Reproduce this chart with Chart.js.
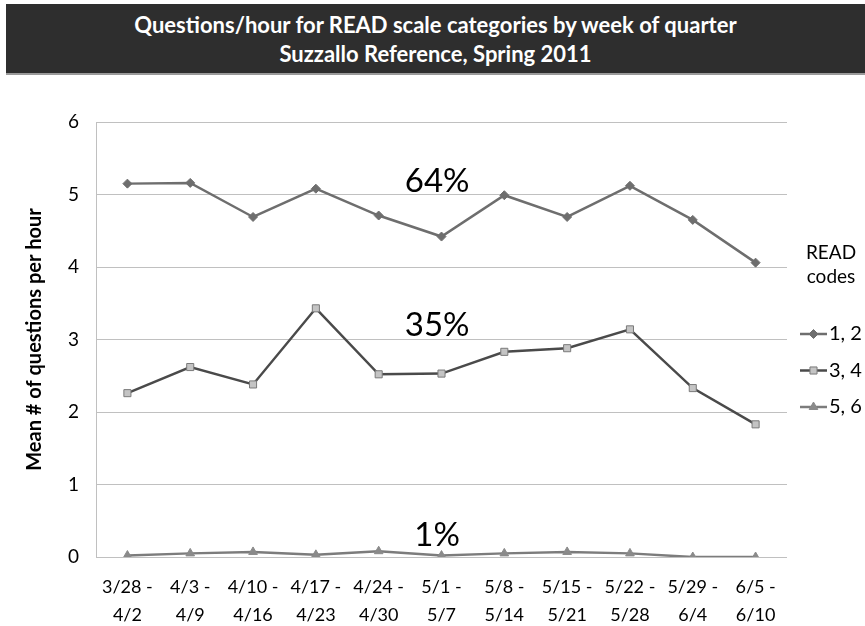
<!DOCTYPE html>
<html>
<head>
<meta charset="utf-8">
<script src="https://cdn.jsdelivr.net/npm/chart.js@4.4.0/dist/chart.umd.min.js"></script>
<style>
  body { margin: 0; background: #fff; width: 865px; height: 626px; overflow: hidden; font-family: Lato, sans-serif; }
  #titleBar {
    position: absolute; left: 6px; top: 4px; width: 859px; height: 71px;
    background: #2e2e2e; border-bottom: 2px solid #9a9a9a;
    color: #fff; font-weight: bold; font-size: 22px; text-align: center;
    line-height: 29px; padding-top: 6px; box-sizing: border-box;
  }
  #wrap { position: absolute; left: 0; top: 76px; width: 865px; height: 550px; }
</style>
</head>
<body>
<div id="titleBar">Questions/hour for READ scale categories by week of quarter<br>Suzzallo Reference, Spring 2011</div>
<div id="wrap"><canvas id="chart"></canvas></div>
<script>
/* =========================
   DATA
========================= */
const weeks = [
  ["3/28 -", "4/2"], ["4/3 -", "4/9"], ["4/10 -", "4/16"], ["4/17 -", "4/23"],
  ["4/24 -", "4/30"], ["5/1 -", "5/7"], ["5/8 -", "5/14"], ["5/15 -", "5/21"],
  ["5/22 -", "5/28"], ["5/29 -", "6/4"], ["6/5 -", "6/10"]
];
const seriesNames = ["1, 2", "3, 4", "5, 6"];
const codes12 = [5.15, 5.16, 4.69, 5.08, 4.71, 4.42, 4.99, 4.69, 5.12, 4.65, 4.06];
const codes34 = [2.26, 2.62, 2.38, 3.43, 2.52, 2.53, 2.83, 2.88, 3.14, 2.33, 1.83];
const codes56 = [0.02, 0.05, 0.07, 0.03, 0.08, 0.02, 0.05, 0.07, 0.05, 0.00, 0.00];

// share labels, placed at (category index, value)
const shareLabels = ["64%", "35%", "1%"];
const shareX = [4.93, 4.93, 4.93];
const shareY = [5.18, 3.2, 0.3];

/* =========================
   PLUGINS
========================= */
const shareText = {
  id: "shareText",
  afterDatasetsDraw(chart) {
    const { ctx, scales: { x, y } } = chart;
    ctx.save();
    ctx.font = "33px Lato, sans-serif";
    ctx.fillStyle = "#000";
    ctx.textAlign = "center";
    ctx.textBaseline = "middle";
    shareLabels.forEach((t, i) => {
      ctx.fillText(t, x.getPixelForValue(shareX[i]), y.getPixelForValue(shareY[i]));
    });
    ctx.restore();
  }
};

const sideLegend = {
  id: "sideLegend",
  afterDraw(chart) {
    const ctx = chart.ctx;
    const x0 = chart.chartArea.right + 13;
    ctx.save();
    ctx.fillStyle = "#000";
    ctx.font = "19px Lato, sans-serif";
    ctx.textAlign = "center";
    ctx.textBaseline = "middle";
    ctx.fillText("READ", x0 + 31, 177);
    ctx.fillText("codes", x0 + 31, 201);

    chart.data.datasets.forEach((ds, i) => {
      const yy = 258 + i * 36.5;
      ctx.strokeStyle = ds.borderColor;
      ctx.lineWidth = ds.borderWidth;
      ctx.beginPath();
      ctx.moveTo(x0, yy);
      ctx.lineTo(x0 + 27, yy);
      ctx.stroke();
      ctx.fillStyle = ds.pointBackgroundColor;
      ctx.strokeStyle = ds.pointBorderColor;
      ctx.lineWidth = ds.pointBorderWidth;
      Chart.helpers.drawPoint(ctx, {
        pointStyle: ds.pointStyle, radius: ds.pointRadius, rotation: 0,
        borderWidth: ds.pointBorderWidth
      }, x0 + 13.5, yy);
      ctx.fillStyle = "#000";
      ctx.font = "20px Lato, sans-serif";
      ctx.textAlign = "left";
      ctx.fillText(ds.label, x0 + 29, yy);
    });
    ctx.restore();
  }
};

/* =========================
   CHART
========================= */
new Chart(document.getElementById("chart"), {
  type: "line",
  data: {
    labels: weeks,
    datasets: [
      {
        label: seriesNames[0], data: codes12,
        borderColor: "#6e6e6e", borderWidth: 2.5,
        pointStyle: "rectRot", pointRadius: 4.5,
        pointBackgroundColor: "#6e6e6e", pointBorderColor: "#6e6e6e", pointBorderWidth: 1
      },
      {
        label: seriesNames[1], data: codes34,
        borderColor: "#4a4a4a", borderWidth: 2.5,
        pointStyle: "rect", pointRadius: 5,
        pointBackgroundColor: "#c4c4c4", pointBorderColor: "#7a7a7a", pointBorderWidth: 1
      },
      {
        label: seriesNames[2], data: codes56,
        borderColor: "#7c7c7c", borderWidth: 2.5,
        pointStyle: "triangle", pointRadius: 5,
        pointBackgroundColor: "#8a8a8a", pointBorderColor: "#8a8a8a", pointBorderWidth: 1
      }
    ]
  },
  options: {
    responsive: true,
    maintainAspectRatio: false,
    animation: false,
    layout: { padding: { top: 46, right: 78, bottom: 0, left: 0 } },
    plugins: {
      legend: { display: false },
      tooltip: { enabled: false }
    },
    scales: {
      x: {
        offset: true,
        grid: { display: false },
        border: { display: false },
        ticks: {
          color: "#000", padding: 8, maxRotation: 0, autoSkip: false,
          font: { family: "Lato, sans-serif", size: 18, lineHeight: 1.55 }
        },
        afterFit(scale) { scale.height = 69; }
      },
      y: {
        min: 0, max: 6,
        ticks: {
          stepSize: 1, color: "#000", padding: 17,
          font: { family: "Lato, sans-serif", size: 19 }
        },
        grid: { color: "#c0c0c0", lineWidth: 1, drawTicks: false },
        border: { display: true, color: "#c0c0c0" },
        title: {
          display: true, text: "Mean # of questions per hour", color: "#000",
          padding: { top: 23, bottom: 0 },
          font: { family: "Lato, sans-serif", size: 20, weight: "bold" }
        },
        afterFit(scale) { scale.width = 96; }
      }
    }
  },
  plugins: [shareText, sideLegend]
});
</script>
</body>
</html>
